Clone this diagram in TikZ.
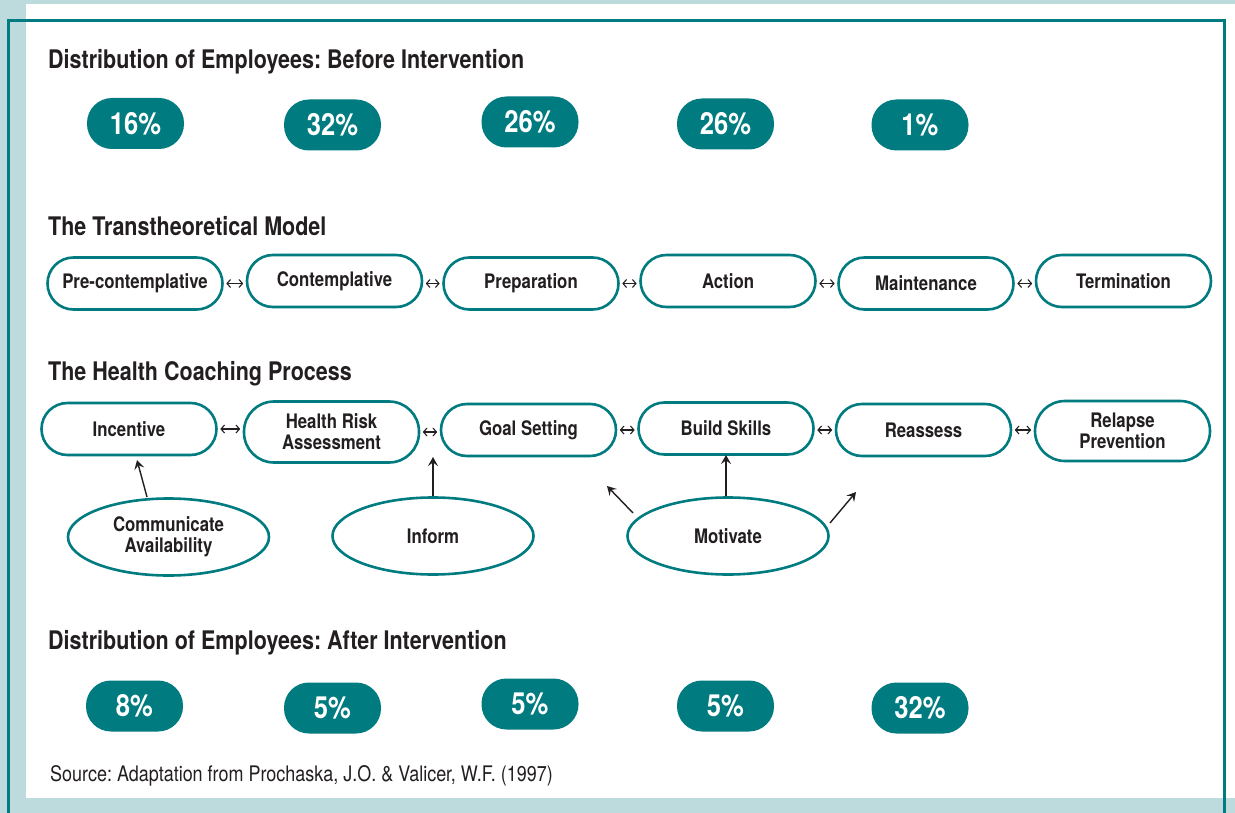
\documentclass[tikz,border=0pt]{standalone}
\usepackage{fontspec}
\setmainfont{TeX Gyre Heros}[FakeStretch=0.84]
\usetikzlibrary{arrows.meta,shapes.geometric}
\definecolor{tealc}{RGB}{0,123,128}
\definecolor{bgc}{RGB}{189,218,221}
\definecolor{txt}{RGB}{35,31,32}
\frenchspacing
\begin{document}
\begin{tikzpicture}[x=1pt,y=-1pt,
  pill/.style={fill=tealc, text=white, rounded corners=25pt, minimum width=97pt, minimum height=51pt, inner sep=0pt, font=\fontsize{30.5}{30.5}\selectfont\bfseries},
  stage/.style={draw=tealc, line width=2.6pt, rounded corners=26pt, minimum width=175pt, minimum height=52pt, fill=white, text=txt, inner sep=0pt, align=center, font=\fontsize{20}{21}\selectfont\bfseries},
  ell/.style={ellipse, draw=tealc, line width=2.6pt, minimum width=201pt, minimum height=77pt, text=txt, inner sep=0pt, align=center, font=\fontsize{20}{21}\selectfont\bfseries},
  head/.style={anchor=base west, text=txt, inner sep=0pt, font=\fontsize{25.6}{25.6}\selectfont\bfseries},
  dbl/.style={{Straight Barb[length=3.5pt,width=8pt]}-{Straight Barb[length=3.5pt,width=8pt]}, line width=1.1pt, txt, shorten <=2.5pt, shorten >=2.5pt},
  arr/.style={-{Stealth[length=9pt,width=10pt,inset=3.5pt]}, line width=1.4pt, txt}]
\useasboundingbox (0,0) rectangle (1235,813);
\fill[bgc] (0,0) rectangle (1235,813);
\fill[white] (26,4) rectangle (1235,798);
\draw[tealc, line width=3pt] (8,813) -- (8,21) -- (1224,21) -- (1224,813);

% headings
\node[head] (t1) at (48,69) {Distribution of Employees: Before Intervention};
\node[head] (t2) at (48,236) {The Transtheoretical Model};
\node[head] (t3) at (48,380) {The Health Coaching Process};
\node[head] (t4) at (48,649) {Distribution of Employees: After Intervention};
\node[anchor=base west, text=txt, inner sep=0pt, font=\fontsize{21.4}{21.4}\selectfont] (src) at (50,781) {Source: Adaptation from Prochaska, J.O. \& Valicer, W.F. (1997)};

% before pills
\node[pill] (p1) at (135.5,123.5) {16\%};
\node[pill] (p2) at (332.5,125) {32\%};
\node[pill] (p3) at (530,122) {26\%};
\node[pill] (p4) at (725.5,124) {26\%};
\node[pill] (p5) at (920,125) {1\%};

% after pills
\node[pill] (q1) at (134.5,706) {8\%};
\node[pill] (q2) at (332.5,708) {5\%};
\node[pill] (q3) at (530,704) {5\%};
\node[pill] (q4) at (725.5,706) {5\%};
\node[pill] (q5) at (920,708) {32\%};

% TTM
\node[stage] (s1) at (135,283.5) {Pre-contemplative};
\node[stage] (s2) at (334.5,281) {Contemplative};
\node[stage] (s3) at (531,283.5) {Preparation};
\node[stage] (s4) at (728,281) {Action};
\node[stage] (s5) at (926,283.5) {Maintenance};
\node[stage] (s6) at (1123.5,281) {Termination};
\draw[dbl] (s1.east) -- (s1.east -| s2.west);
\draw[dbl] (s2.east |- s3.west) -- (s3.west);
\draw[dbl] (s3.east) -- (s3.east -| s4.west);
\draw[dbl] (s4.east |- s5.west) -- (s5.west);
\draw[dbl] (s5.east) -- (s5.east -| s6.west);

% HCP
\node[stage] (h1) at (129,429) {Incentive};
\node[stage, minimum height=61pt, rounded corners=30pt] (h2) at (331.5,432) {Health Risk\\Assessment};
\node[stage] (h3) at (528.5,430) {Goal Setting};
\node[stage] (h4) at (726,428.5) {Build Skills};
\node[stage] (h5) at (923.5,430) {Reassess};
\node[stage, minimum height=60pt, rounded corners=30pt] (h6) at (1122.5,431) {Relapse\\Prevention};
\draw[dbl] (h1.east) -- (h1.east -| h2.west);
\draw[dbl] (h2.east) -- (h2.east -| h3.west);
\draw[dbl] (h3.east) -- (h3.east -| h4.west);
\draw[dbl] (h4.east |- h5.west) -- (h5.west);
\draw[dbl] (h5.east) -- (h5.east -| h6.west);

% ellipses
\node[ell] (e1) at (168.5,537) {Communicate\\Availability};
\node[ell] (e2) at (433,536) {Inform};
\node[ell] (e3) at (728,536) {Motivate};

\coordinate (a1s) at (147,497); \coordinate (a1t) at (137,460);
\coordinate (a2t) at (433,457);
\coordinate (a3s) at (633,513); \coordinate (a3t) at (607,486);
\coordinate (a4t) at (726,455);
\coordinate (a5s) at (830,523); \coordinate (a5t) at (856,492);
\draw[arr] (a1s) -- (a1t);
\draw[arr] (e2.north) -- (a2t);
\draw[arr] (a3s) -- (a3t);
\draw[arr] (e3.north -| a4t) -- (a4t);
\draw[arr] (a5s) -- (a5t);
\end{tikzpicture}
\end{document}
